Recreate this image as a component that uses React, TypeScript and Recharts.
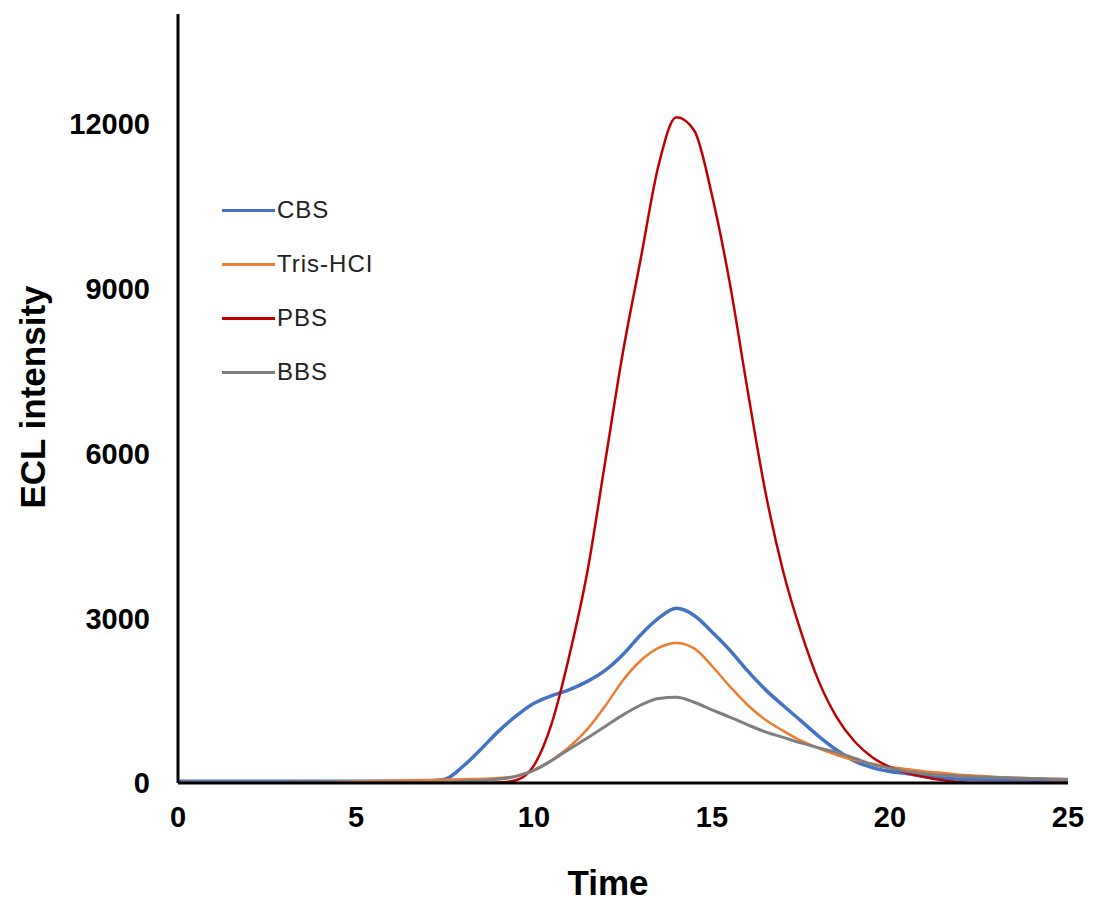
import React from 'react';
import { LineChart, Line, XAxis, YAxis, Legend } from 'recharts';

const times = [0,0.5,1,1.5,2,2.5,3,3.5,4,4.5,5,5.5,6,6.5,7,7.5,8,8.5,9,9.5,10,10.5,11,11.5,12,12.5,13,13.5,14,14.5,15,15.5,16,16.5,17,17.5,18,18.5,19,19.5,20,20.5,21,21.5,22,22.5,23,23.5,24,24.5,25];

const cbs = [30,30,30,30,30,30,30,30,30,30,30,30,30,30,40,70,300,610,940,1220,1450,1590,1700,1850,2050,2340,2700,3000,3180,3050,2750,2420,2040,1700,1410,1130,850,600,400,280,210,170,120,90,70,65,60,60,55,55,55];
const tris = [10,10,10,10,10,12,15,18,20,25,30,35,40,50,55,60,70,75,90,130,240,420,660,980,1400,1870,2230,2460,2550,2450,2130,1760,1420,1150,950,770,630,510,420,350,290,250,210,180,150,130,110,95,85,75,65];
const pbs = [5,5,5,5,5,5,5,5,5,5,5,5,5,5,5,5,5,5,10,50,320,1090,2340,3850,5850,7850,9550,11250,12120,11880,10700,9100,7150,5300,3850,2750,1850,1200,760,470,290,180,105,50,15,5,5,5,5,5,5];
const bbs = [15,15,15,15,15,15,15,15,15,15,15,15,15,15,15,15,30,45,70,120,230,410,620,820,1030,1240,1420,1540,1560,1470,1330,1200,1060,930,830,730,640,560,450,340,270,210,170,140,120,110,100,90,80,75,70];

const xTicks = [0, 5, 10, 15, 20, 25];
const yTicks = [0, 3000, 6000, 9000, 12000];

const seriesNames = ['CBS', 'Tris-HCI', 'PBS', 'BBS'];
const seriesColors = ['#4472C4', '#ED7D31', '#C00000', '#7F7F7F'];

const data = times.map((t, i) => ({ t, cbs: cbs[i], tris: tris[i], pbs: pbs[i], bbs: bbs[i] }));

const FONT = '"Liberation Sans", Arial, sans-serif';

const renderLegend = () => (
  <div style={{ fontFamily: FONT }}>
    {seriesNames.map((name, i) => (
      <div key={name} style={{ display: 'flex', alignItems: 'center', height: 54 }}>
        <div style={{ width: 53, height: 3, background: seriesColors[i] }} />
        <span style={{ fontSize: 24, color: '#222', letterSpacing: 1, marginLeft: 2 }}>{name}</span>
      </div>
    ))}
  </div>
);

export default function App() {
  const tickStyle = { fill: '#000', fontSize: 29, fontWeight: 700, fontFamily: FONT };
  return (
    <div style={{ position: 'absolute', left: 0, top: 0, width: 1094, height: 901, background: '#fff' }}>
      <LineChart width={1094} height={901} data={data} margin={{ top: 14, right: 26, bottom: 58, left: 78 }}>
        <XAxis
          dataKey="t"
          type="number"
          domain={[0, 25]}
          ticks={xTicks}
          axisLine={{ stroke: '#000', strokeWidth: 3 }}
          tickLine={false}
          tickSize={6}
          tickMargin={17}
          height={60}
          tick={tickStyle}
        />
        <YAxis
          type="number"
          domain={[0, 14000]}
          ticks={yTicks}
          width={100}
          axisLine={{ stroke: '#000', strokeWidth: 3 }}
          tickLine={false}
          tickSize={6}
          tickMargin={22}
          tick={tickStyle}
        />
        <Legend
          layout="vertical"
          verticalAlign="middle"
          align="center"
          content={renderLegend}
          wrapperStyle={{ left: 222, top: 183, width: 220 }}
        />
        <Line type="monotone" dataKey="cbs" name={seriesNames[0]} stroke={seriesColors[0]} strokeWidth={3.5} dot={false} isAnimationActive={false} />
        <Line type="monotone" dataKey="tris" name={seriesNames[1]} stroke={seriesColors[1]} strokeWidth={2.5} dot={false} isAnimationActive={false} />
        <Line type="monotone" dataKey="pbs" name={seriesNames[2]} stroke={seriesColors[2]} strokeWidth={2.5} dot={false} isAnimationActive={false} />
        <Line type="monotone" dataKey="bbs" name={seriesNames[3]} stroke={seriesColors[3]} strokeWidth={3} dot={false} isAnimationActive={false} />
        <text x={608} y={895} textAnchor="middle" style={{ fontFamily: FONT, fontSize: 35, fontWeight: 700, fill: '#000' }}>Time</text>
        <text x={45} y={397} textAnchor="middle" transform="rotate(-90, 45, 397)" style={{ fontFamily: FONT, fontSize: 35, fontWeight: 700, fill: '#000' }}>ECL intensity</text>
      </LineChart>
    </div>
  );
}
